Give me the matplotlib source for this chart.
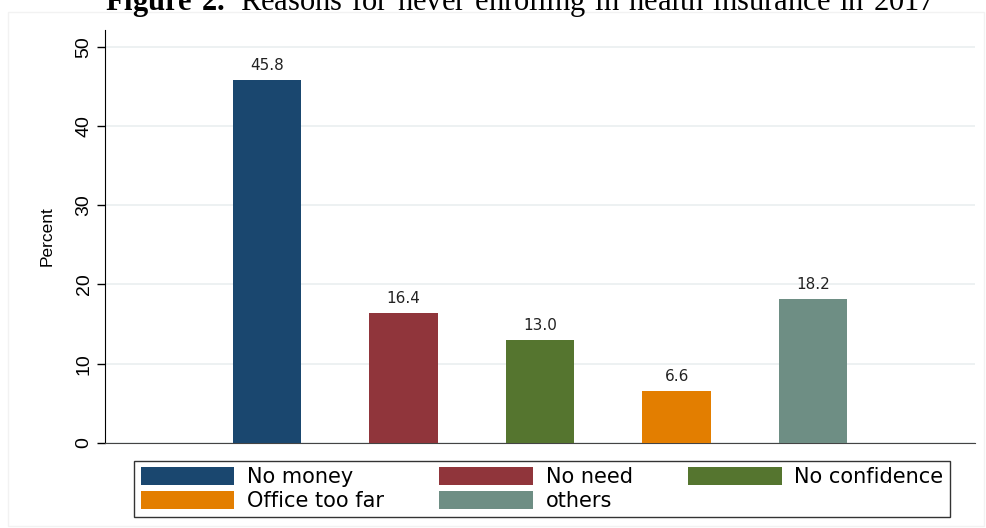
import numpy as np
import matplotlib
matplotlib.use('Agg')
from matplotlib import pyplot as plt
from matplotlib.patches import Rectangle

reasons = ['No money', 'No need', 'No confidence', 'Office too far', 'others']
percent = [45.8, 16.4, 13.0, 6.6, 18.2]
colors = ['#1a476f', '#90353b', '#55752f', '#e37e00', '#6e8e84']
yticks = [0, 10, 20, 30, 40, 50]

plt.rcParams['font.family'] = ['Liberation Sans', 'DejaVu Sans']
plt.rcParams['mathtext.fontset'] = 'custom'
plt.rcParams['mathtext.rm'] = 'Liberation Serif'
plt.rcParams['mathtext.bf'] = 'Liberation Serif:bold'

fig = plt.figure(figsize=(9.86, 5.28), dpi=100)

# faint outer border of the graph region
fig.patches.append(Rectangle((0.008, 0.003), 0.99, 0.974, transform=fig.transFigure,
                             fill=False, edgecolor='#f2f2f2', linewidth=1.0))

ax = fig.add_axes([0.1065, 0.161, 0.8825, 0.782])

x = np.arange(1, len(reasons) + 1)
bars = ax.bar(x, percent, width=0.5, color=colors, label=reasons, zorder=3)
ax.bar_label(bars, fmt='%.1f', padding=5, fontsize=11, color='#222222',
             family='DejaVu Sans')

ax.set_xlim(-0.187, 6.187)
ax.set_ylim(0, 52.1)
ax.set_yticks(yticks)
ax.set_yticklabels([str(t) for t in yticks], rotation=90, va='center', fontsize=14)
ax.tick_params(axis='y', length=6, width=1, pad=3)
ax.set_xticks([])
ax.set_ylabel('Percent', fontsize=12.5, labelpad=15)
ax.yaxis.grid(True, color='#eaeff0', linewidth=1.2, zorder=0)

ax.spines['top'].set_visible(False)
ax.spines['right'].set_visible(False)
ax.spines['left'].set_color('black')
ax.spines['bottom'].set_color('#444444')

# Stata fills the legend row by row, matplotlib column by column
order = [0, 3, 1, 4, 2]
handles = [bars[i] for i in order]
labels = [reasons[i] for i in order]
leg = fig.legend(handles, labels, ncol=3, loc='center', mode='expand',
                 bbox_to_anchor=(0.1258, 0.0133, 0.8478, 0.1212),
                 prop={'family': 'DejaVu Sans', 'size': 15},
                 handlelength=4.5, handleheight=0.95,
                 handletextpad=0.6, labelspacing=0.2, borderpad=0.3,
                 columnspacing=1.0,
                 fancybox=False, edgecolor='#333333', framealpha=1)
leg.get_frame().set_linewidth(1.0)

fig.text(0.528, 1 - 10 / 528,
         r'$\mathbf{Figure\ 2.}\mathrm{\ Reasons\ for\ never\ enrolling\ in\ health\ insurance\ in\ 2017}$',
         ha='center', va='baseline', fontsize=22)

plt.savefig('out.png', dpi=100)
